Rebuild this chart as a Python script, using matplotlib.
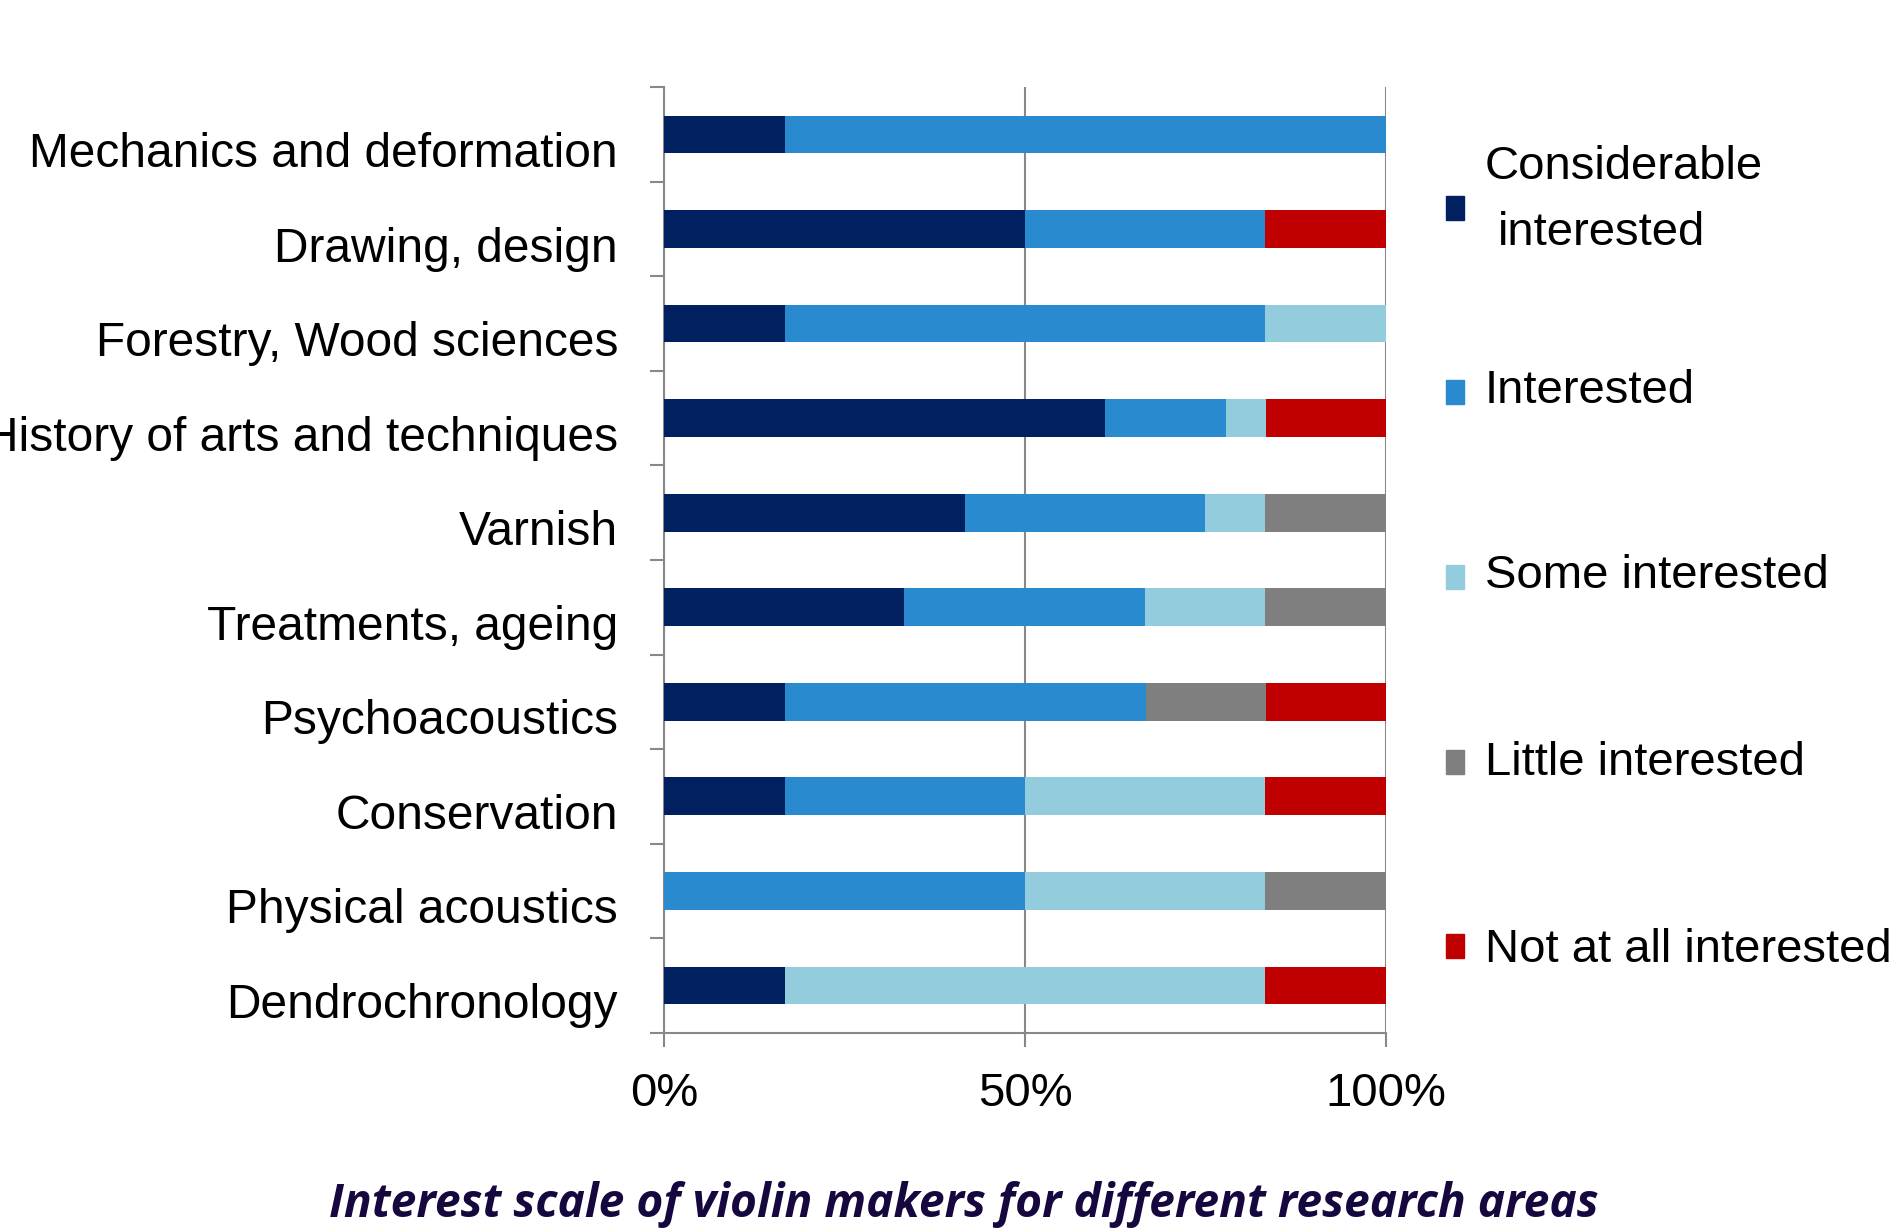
import numpy as np
import matplotlib
matplotlib.use("Agg")
import matplotlib.pyplot as plt
import matplotlib.transforms as mtransforms
from matplotlib.patches import Rectangle

plt.rcParams['font.family'] = ['Liberation Sans', 'DejaVu Sans']

areas = ['Mechanics and deformation', 'Drawing, design', 'Forestry, Wood sciences',
         'History of arts and techniques', 'Varnish', 'Treatments, ageing',
         'Psychoacoustics', 'Conservation', 'Physical acoustics', 'Dendrochronology']

series = ['Considerable interested', 'Interested', 'Some interested',
          'Little interested', 'Not at all interested']
colors = ['#002060', '#2a8acf', '#93cddd', '#7f7f7f', '#c00000']

# percent of respondents, one list per interest level
considerable = [16.7, 50.0, 16.7, 61.1, 41.7, 33.3, 16.7, 16.7, 0.0, 16.7]
interested   = [83.3, 33.3, 66.6, 16.7, 33.3, 33.3, 50.0, 33.3, 50.0, 0.0]
some         = [0.0, 0.0, 16.7, 5.6, 8.3, 16.7, 0.0, 33.3, 33.3, 66.6]
little       = [0.0, 0.0, 0.0, 0.0, 16.7, 16.7, 16.7, 0.0, 16.7, 0.0]
not_at_all   = [0.0, 16.7, 0.0, 16.6, 0.0, 0.0, 16.6, 16.7, 0.0, 16.7]

xticks = [0, 50, 100]
xticklabels = ['0%', '50%', '100%']
title = 'Interest scale of violin makers for different research areas'

W, H = 1890, 1228
fig = plt.figure(figsize=(W / 100, H / 100), dpi=100)
ax = fig.add_axes([0.3513, 0.159, 0.382, 0.770])

y = np.arange(len(areas))
left = np.zeros(len(areas))
for vals, col in zip([considerable, interested, some, little, not_at_all], colors):
    ax.barh(y, vals, left=left, height=0.4, color=col, zorder=3)
    left += np.array(vals)

ax.set_ylim(len(areas) - 0.5, -0.5)
ax.set_xlim(0, 100)
ax.set_yticks(y)
ax.set_yticklabels(areas, fontsize=34.5)
ax.set_yticks(np.arange(-0.5, len(areas), 1), minor=True)
ax.tick_params(axis='y', which='major', length=0, pad=33)
ax.tick_params(axis='y', which='minor', length=10, width=1.5, color='#888888', direction='out')

# category labels sit a little below the bar centres, as in the original
shift = mtransforms.ScaledTranslation(0, -0.15, fig.dpi_scale_trans)
for lab in ax.get_yticklabels():
    lab.set_transform(lab.get_transform() + shift)

ax.set_xticks(xticks)
ax.set_xticklabels(xticklabels, fontsize=34)
ax.tick_params(axis='x', length=10, width=1.5, color='#888888', direction='out', pad=18)

ax.xaxis.grid(True, color='#888888', linewidth=1.5)
ax.set_axisbelow(True)
for s in ['top', 'right']:
    ax.spines[s].set_visible(False)
for s in ['left', 'bottom']:
    ax.spines[s].set_color('#888888')
    ax.spines[s].set_linewidth(1.5)

# legend drawn by hand (Excel style, with a two-line first entry)
marker_y = [208, 392, 577, 762, 946]
text_y = [None, 391, 576, 763, 950]
for i, (name, col) in enumerate(zip(series, colors)):
    yc = marker_y[i]
    fig.add_artist(Rectangle((1446 / W, 1 - (yc + 12) / H), 18 / W, 24 / H,
                             transform=fig.transFigure, color=col))
    if i == 0:
        fig.text(1485 / W, 1 - 167 / H, 'Considerable', fontsize=34, va='center')
        fig.text(1498 / W, 1 - 233 / H, 'interested', fontsize=34, va='center')
    else:
        fig.text(1485 / W, 1 - text_y[i] / H, name, fontsize=34, va='center')

fig.text(0.51, 1 - 1205 / H, title, fontsize=33.2, fontweight='bold', fontstyle='italic',
         color='#16083f', ha='center', va='center', family=['Open Sans', 'DejaVu Sans'])

fig.savefig('out.png', dpi=100)
